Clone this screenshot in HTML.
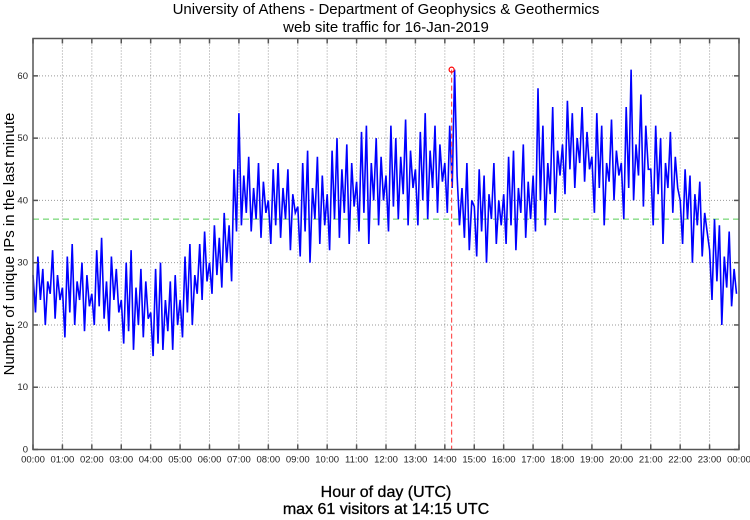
<!DOCTYPE html>
<html><head><meta charset="utf-8"><style>
body{margin:0;background:#fff;}
svg text{font-family:"Liberation Sans",sans-serif;}
</style></head><body>
<svg id="chart" width="750" height="515" xmlns="http://www.w3.org/2000/svg">
<text x="386" y="14" font-size="15" text-anchor="middle">University of Athens - Department of Geophysics &amp; Geothermics</text>
<text x="386" y="32" font-size="15" text-anchor="middle">web site traffic for 16-Jan-2019</text>
<text x="386" y="497" font-size="16" text-anchor="middle" stroke="#000" stroke-width="0.3">Hour of day (UTC)</text>
<text x="386" y="514" font-size="16" text-anchor="middle" stroke="#000" stroke-width="0.3">max 61 visitors at 14:15 UTC</text>
<text transform="translate(14,244) rotate(-90)" font-size="15" text-anchor="middle">Number of unique IPs in the last minute</text>
<g id="grid"></g><g id="series"></g><g id="axes"></g>
</svg>
<script>
const hourLabels=["00:00","01:00","02:00","03:00","04:00","05:00","06:00","07:00","08:00","09:00","10:00","11:00","12:00","13:00","14:00","15:00","16:00","17:00","18:00","19:00","20:00","21:00","22:00","23:00","00:00"];
const yTicks=[0,10,20,30,40,50,60];
const meanValue=37;
const maxValue=61;
const maxHour=14.23;
// 5-minute samples (visitors)
const visitors=[
28,22,31,24,29,20,27,25,32,21,28,24,
26,18,31,22,33,20,27,24,30,19,28,23,
25,20,32,23,34,21,27,19,31,24,29,22,
24,17,30,19,32,16,26,20,29,18,27,21,
22,15,29,17,30,16,24,19,27,16,28,20,
24,18,31,22,33,20,28,25,33,24,35,27,
30,25,36,28,34,26,38,30,36,27,45,35,
54,36,44,38,47,35,42,37,46,34,43,38,
40,33,45,36,46,34,42,37,45,32,41,38,
39,31,46,35,48,30,42,37,47,33,44,36,
41,32,48,37,50,34,45,38,49,33,46,39,
43,35,51,38,52,33,46,40,50,36,47,40,
44,35,52,39,50,37,47,41,53,36,48,42,
45,36,51,40,54,37,48,42,52,38,49,43,
46,38,52,42,61,44,36,42,34,46,32,40,
39,31,45,35,44,30,41,37,46,33,40,36,
41,33,47,36,48,32,42,38,49,34,43,37,
44,35,58,40,52,36,46,41,55,38,48,44,
49,41,56,45,54,42,50,46,55,43,51,45,
47,38,54,42,52,36,46,43,53,40,48,44,
46,37,55,42,61,40,49,44,57,39,52,45,
45,36,52,41,50,33,46,42,51,38,47,42,
40,33,45,37,44,30,41,36,43,31,38,35,
32,24,37,27,36,20,31,26,35,23,29,25
];
const svg=document.getElementById('chart'),NS='http://www.w3.org/2000/svg';
const L=33,R=739,T=38.5,B=449.5,yMax=66;
const xH=h=>L+(R-L)*h/24;
const yV=v=>B-(B-T)*v/yMax;
function mk(parent,tag,attrs){const e=document.createElementNS(NS,tag);for(const k in attrs)e.setAttribute(k,attrs[k]);document.getElementById(parent).appendChild(e);return e;}
hourLabels.forEach((lab,i)=>{
 const x=xH(i);
 if(i>0&&i<24){const g=mk('grid','line',{x1:x,x2:x,y1:T,y2:B,stroke:'#999','stroke-width':1,'stroke-dasharray':'1,2'});
 
 }
 const tk=mk('axes','line',{x1:x,x2:x,y1:B,y2:B-5,stroke:'#555','stroke-width':1.5});
 
 
 const tk2=mk('axes','line',{x1:x,x2:x,y1:T,y2:T+5,stroke:'#555','stroke-width':1.5});
 
 
 const t=mk('axes','text',{x:x,y:B+13,'font-size':9.5,'text-anchor':'middle',fill:'#222'});t.textContent=lab;
 
 
});
yTicks.forEach(v=>{
 const y=yV(v);
 if(v>0){const g=mk('grid','line',{x1:L,x2:R,y1:y,y2:y,stroke:'#999','stroke-width':1,'stroke-dasharray':'1,2'});
 
 }
 const tk=mk('axes','line',{x1:L,x2:L+5,y1:y,y2:y,stroke:'#555','stroke-width':1.5});
 
 
 const tk2=mk('axes','line',{x1:R-5,x2:R,y1:y,y2:y,stroke:'#555','stroke-width':1.5});
 
 
 const t=mk('axes','text',{x:L-5,y:y+3,'font-size':9.5,'text-anchor':'end',fill:'#222'});t.textContent=v;
 
 
});
const mean=mk('series','line',{x1:L,x2:R,y1:yV(meanValue),y2:yV(meanValue),stroke:'#5c5','stroke-width':1,'stroke-dasharray':'6,4'});


const pts=visitors.map((v,i)=>xH(i*24/visitors.length).toFixed(1)+','+yV(v).toFixed(1)).join(' ');
const line=mk('series','polyline',{points:pts,fill:'none',stroke:'#0000ff','stroke-width':1.6,'stroke-linejoin':'miter'});


const ml=mk('series','line',{x1:xH(maxHour),x2:xH(maxHour),y1:yV(maxValue),y2:B,stroke:'#f55','stroke-width':1.2,'stroke-dasharray':'5,3'});


const mc=mk('series','circle',{cx:xH(maxHour),cy:yV(maxValue),r:2.5,fill:'none',stroke:'#f00','stroke-width':1.2});


const fr=mk('axes','rect',{x:L,y:T,width:R-L,height:B-T,fill:'none',stroke:'#555','stroke-width':1.5});


</script>
</body></html>
